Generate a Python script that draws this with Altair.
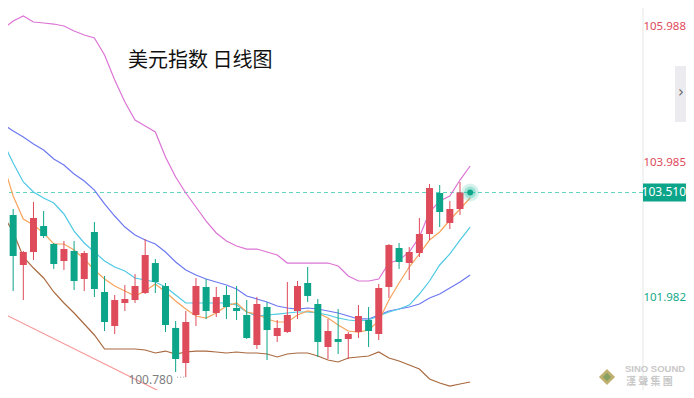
import altair as alt
import pandas as pd

# ---------------- data ----------------
candle_idx = list(range(46))
opens = [103.340, 103.177, 102.438, 102.630, 103.014, 102.748, 102.497, 102.645, 102.231, 102.926,
         102.039, 101.536, 101.876, 101.920, 102.024, 102.467, 102.127, 101.507, 100.989, 101.699,
         102.113, 101.728, 101.994, 101.802, 101.699, 101.255, 101.817, 101.388, 101.447, 101.758,
         102.172, 101.861, 101.226, 101.344, 101.344, 101.447, 101.625, 101.418, 102.113, 102.689,
         102.467, 102.615, 102.896, 103.502, 103.059, 103.266]
highs = [103.517, 103.266, 102.645, 103.369, 103.236, 102.763, 102.793, 102.793, 102.645, 103.073,
         102.275, 101.994, 102.142, 102.305, 102.822, 102.526, 102.172, 101.610, 101.758, 102.246,
         102.231, 102.113, 102.127, 102.127, 101.920, 101.965, 101.891, 101.625, 102.186, 102.201,
         102.408, 101.935, 101.640, 101.787, 101.447, 101.846, 101.817, 102.157, 102.748, 102.763,
         102.704, 103.133, 103.635, 103.620, 103.384, 103.665]
lows = [102.999, 102.053, 101.920, 102.512, 102.837, 102.379, 102.364, 102.068, 102.053, 101.965,
        101.462, 101.418, 101.758, 101.876, 102.009, 102.024, 101.447, 100.856, 100.780, 101.536,
        101.640, 101.669, 101.640, 101.625, 101.344, 101.196, 101.033, 101.300, 101.433, 101.640,
        101.891, 101.078, 101.048, 101.122, 101.048, 101.359, 101.226, 101.329, 101.950, 102.379,
        102.216, 102.556, 102.807, 102.999, 102.970, 103.177]
closes = [103.236, 102.571, 102.630, 103.133, 102.866, 102.453, 102.674, 102.201, 102.615, 102.083,
          101.595, 101.920, 101.935, 102.127, 102.586, 102.186, 101.551, 101.048, 101.595, 102.127,
          101.758, 101.965, 101.817, 101.758, 101.359, 101.861, 101.477, 101.507, 101.699, 102.127,
          101.980, 101.300, 101.462, 101.300, 101.418, 101.684, 101.462, 102.098, 102.733, 102.482,
          102.630, 102.896, 103.576, 103.221, 103.266, 103.510]

line_idx = list(range(47))
ma_orange = [103.946, 103.458, 103.118, 103.029, 102.911, 102.748, 102.748, 102.660, 102.526, 102.364,
             102.231, 102.127, 102.053, 101.980, 102.053, 102.157, 102.039, 101.906, 101.787, 101.684,
             101.654, 101.728, 101.832, 101.876, 101.743, 101.713, 101.640, 101.595, 101.595, 101.699,
             101.758, 101.728, 101.654, 101.551, 101.462, 101.447, 101.477, 101.610, 101.920, 102.172,
             102.408, 102.601, 102.807, 102.926, 103.103, 103.266, 103.428]
ma_cyan = [104.256, 103.946, 103.665, 103.517, 103.428, 103.354, 103.192, 102.940, 102.763, 102.630,
           102.497, 102.408, 102.349, 102.246, 102.216, 102.186, 102.113, 101.994, 101.876, 101.876,
           101.876, 101.876, 101.876, 101.846, 101.743, 101.684, 101.699, 101.713, 101.728, 101.743,
           101.743, 101.728, 101.699, 101.654, 101.625, 101.610, 101.625, 101.684, 101.743, 101.787,
           101.846, 102.009, 102.201, 102.438, 102.601, 102.807, 102.999]
ma_blue = [104.522, 104.419, 104.330, 104.226, 104.138, 104.005, 103.916, 103.783, 103.679, 103.546,
           103.340, 103.162, 102.999, 102.881, 102.807, 102.748, 102.630, 102.482, 102.364, 102.290,
           102.231, 102.186, 102.142, 102.083, 101.980, 101.935, 101.891, 101.832, 101.802, 101.787,
           101.802, 101.787, 101.758, 101.728, 101.684, 101.640, 101.640, 101.699, 101.758, 101.787,
           101.817, 101.861, 101.950, 102.009, 102.098, 102.186, 102.290]
band_upper = [105.926, 106.045, 106.119, 106.030, 106.015, 106.000, 105.971, 105.897, 105.838, 105.793,
              105.542, 105.172, 104.847, 104.581, 104.492, 104.404, 104.034, 103.739, 103.502, 103.295,
              103.088, 102.911, 102.793, 102.719, 102.674, 102.674, 102.630, 102.586, 102.467, 102.467,
              102.467, 102.467, 102.467, 102.423, 102.275, 102.201, 102.201, 102.231, 102.467, 102.512,
              102.630, 102.852, 103.221, 103.384, 103.458, 103.694, 103.901]
band_lower = [103.177, 102.926, 102.556, 102.393, 102.246, 102.039, 101.876, 101.728, 101.566, 101.403,
              101.196, 101.196, 101.196, 101.196, 101.181, 101.137, 101.166, 101.122, 101.152, 101.166,
              101.166, 101.152, 101.137, 101.152, 101.137, 101.137, 101.122, 101.078, 101.122, 101.137,
              101.137, 101.093, 101.033, 101.004, 101.063, 101.078, 101.093, 101.152, 101.063, 101.019,
              100.959, 100.900, 100.753, 100.694, 100.649, 100.679, 100.708]

trend_idx = [-1, 20]
trend_val = [101.796, 100.228]

last_idx = 46
last_price = 103.510
low_idx = 18
low_price = 100.780

tick_values = [105.988, 103.985, 101.982]
tick_labels = ["105.988", "103.985", "101.982"]

title_text = "美元指数 日线图"

# ---------------- styling ----------------
RED = "#de4b5a"
GREEN = "#0ca58a"
W, H = 635, 382          # plot area; whole svg is 678 x 382 (page margin 8px)
RIGHT = 678
xs = alt.Scale(domain=[0.492, 63.02], nice=False, zero=False)
ys = alt.Scale(domain=[100.590, 106.237], nice=False, zero=False)
X = lambda f: alt.X(f, type="quantitative", scale=xs, axis=None)
Y = lambda f: alt.Y(f, type="quantitative", scale=ys, axis=None)

cdf = pd.DataFrame({"i": candle_idx, "o": opens, "h": highs, "l": lows, "c": closes})
cdf["b1"] = cdf[["o", "c"]].min(axis=1)
cdf["b2"] = cdf[["o", "c"]].max(axis=1)
cdf["col"] = [RED if c >= o else GREEN for o, c in zip(opens, closes)]

series = [("upper", band_upper, "#dc74d4"), ("blue", ma_blue, "#6c78f2"),
          ("cyan", ma_cyan, "#4fc8e4"), ("orange", ma_orange, "#f7a45c"),
          ("lower", band_lower, "#a9693f")]
rows = []
for name, vals, col in series:
    for i, v in zip(line_idx, vals):
        rows.append({"i": i, "v": v, "s": name, "col": col})
ldf = pd.DataFrame(rows)

tdf = pd.DataFrame({"i": trend_idx, "v": trend_val})
lastdf = pd.DataFrame({"i": [last_idx], "v": [last_price], "t": [f"{last_price:.3f}"]})
tickdf = pd.DataFrame({"v": tick_values, "t": tick_labels, "col": [RED, RED, "#13a98a"]})
lowdf = pd.DataFrame({"i": [low_idx], "v": [low_price], "t": [f"{low_price:.3f}"]})
lowlead = pd.DataFrame({"i": [low_idx - 0.85], "i2": [low_idx - 0.1], "v": [low_price]})
one = pd.DataFrame({"a": [0]})

trend = alt.Chart(tdf).mark_line(color="#f79a9a", strokeWidth=1.2, clip=True).encode(x=X("i"), y=Y("v"))
dashed = alt.Chart(lastdf).mark_rule(color="#5fd4c0", strokeDash=[4, 3], strokeWidth=1).encode(y=Y("v"))
axisline = alt.Chart(one).mark_rule(color="#e6e6e6", strokeWidth=1).encode(x=alt.value(W))

wicks = alt.Chart(cdf).mark_rule(strokeWidth=1, clip=True).encode(
    x=X("i"), y=Y("l"), y2="h", color=alt.Color("col:N", scale=None))
bodies = alt.Chart(cdf).mark_rule(strokeWidth=7, strokeCap="butt", clip=True).encode(
    x=X("i"), y=Y("b1"), y2="b2", color=alt.Color("col:N", scale=None))

lines = alt.Chart(ldf).mark_line(strokeWidth=1.2, clip=True).encode(
    x=X("i"), y=Y("v"), detail="s:N", color=alt.Color("col:N", scale=None))

halo = alt.Chart(lastdf).mark_circle(size=320, color="#1fb89a", opacity=0.18).encode(x=X("i"), y=Y("v"))
halo2 = alt.Chart(lastdf).mark_circle(size=140, color="#1fb89a", opacity=0.3).encode(x=X("i"), y=Y("v"))
dot = alt.Chart(lastdf).mark_circle(size=36, color="#0ca58a", opacity=1).encode(x=X("i"), y=Y("v"))

ticks = alt.Chart(tickdf).mark_text(align="right", baseline="middle", dy=2.5, fontSize=11.5,
                                     font="Noto Sans").encode(
    x=alt.value(RIGHT), y=Y("v"), text="t:N", color=alt.Color("col:N", scale=None))
badge = alt.Chart(lastdf).mark_rect(color="#0ca58a", yOffset=-9, y2Offset=9).encode(
    x=alt.value(W), x2=alt.value(RIGHT), y=Y("v"), y2="v:Q")
badge_txt = alt.Chart(lastdf).mark_text(align="right", baseline="middle", fontSize=12,
                                         font="Noto Sans", color="white").encode(
    x=alt.value(RIGHT), y=Y("v"), text="t:N")

lowtxt = alt.Chart(lowdf).mark_text(align="right", baseline="middle", dx=-13, dy=3, fontSize=12,
                                     font="Noto Sans", color="#808080").encode(x=X("i"), y=Y("v"), text="t:N")
lowline = alt.Chart(lowlead).mark_rule(color="#9a9a9a", strokeDash=[1, 2], strokeWidth=1).encode(
    x=X("i"), x2="i2", y=Y("v"))

title = alt.Chart(one).mark_text(align="left", baseline="middle", fontSize=20,
                                 font="Noto Sans CJK SC", color="#111111").encode(
    x=alt.value(120), y=alt.value(53), text=alt.value(title_text))

tab = alt.Chart(one).mark_rect(color="#ececf0").encode(
    x=alt.value(667), x2=alt.value(RIGHT), y=alt.value(58), y2=alt.value(114))
tab_txt = alt.Chart(one).mark_text(fontSize=15, color="#666666", font="DejaVu Sans").encode(
    x=alt.value(673), y=alt.value(84), text=alt.value("›"))

logo_icon = alt.Chart(one).mark_point(shape="diamond", size=260, filled=True, color="#b9a862",
                                      opacity=0.9).encode(x=alt.value(599), y=alt.value(369))
logo_icon2 = alt.Chart(one).mark_point(shape="diamond", size=70, filled=True, color="#6f9a5d").encode(
    x=alt.value(599), y=alt.value(369))
logo_t1 = alt.Chart(one).mark_text(align="left", baseline="middle", fontSize=9.5, fontWeight="bold",
                                   font="Liberation Sans", color="#c8c8c8").encode(
    x=alt.value(617), y=alt.value(361), text=alt.value("SINO SOUND"))
logo_t2 = alt.Chart(one).mark_text(align="left", baseline="middle", fontSize=10, fontWeight="bold",
                                   font="Noto Sans CJK TC", color="#c8c8c8").encode(
    x=alt.value(618), y=alt.value(374), text=alt.value("漢 聲 集 團"))

chart = alt.layer(
    axisline, trend, dashed, lines, wicks, bodies, halo, halo2, dot,
    ticks, badge, badge_txt, lowline, lowtxt, title, tab, tab_txt,
    logo_icon, logo_icon2, logo_t1, logo_t2
).properties(
    width=W, height=H,
    padding={"left": 0, "top": 0, "right": RIGHT - W, "bottom": 0},
    autosize=alt.AutoSizeParams(type="none"),
    background="white",
).configure_view(stroke=None)

chart.save("out.html", embed_options={"renderer": "svg", "actions": False})
